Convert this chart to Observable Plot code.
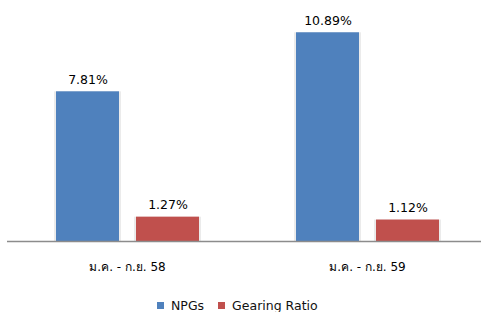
<!DOCTYPE html>
<html>
<head>
<meta charset="utf-8">
<script src="https://cdn.jsdelivr.net/npm/d3@7"></script>
<script src="https://cdn.jsdelivr.net/npm/@observablehq/plot@0.6"></script>
<style>
  body { margin: 0; background: #fff; font-family: "DejaVu Sans", sans-serif; }
  #legend { display: flex; gap: 14px; height: 30px; align-items: center; padding-left: 157px; font-size: 12.5px; color: #111; }
  #legend span.sw { display: inline-block; width: 7px; height: 7px; margin-right: 7px; vertical-align: 1px; }
</style>
</head>
<body>
<div id="chart"></div>
<div id="legend"></div>
<script>
const periods = ["ม.ค. - ก.ย. 58", "ม.ค. - ก.ย. 59"];
const seriesNames = ["NPGs", "Gearing Ratio"];
const npgs = [7.81, 10.89];
const gearing = [1.27, 1.12];
const colors = ["#4F81BD", "#C0504D"];

const data = [];
periods.forEach((p, i) => {
  data.push({period: p, series: seriesNames[0], value: npgs[i]});
  data.push({period: p, series: seriesNames[1], value: gearing[i]});
});

const chart = Plot.plot({
  width: 481,
  height: 290,
  marginLeft: 7,
  marginRight: -6,
  marginTop: 11,
  marginBottom: 49,
  style: {fontFamily: "DejaVu Sans, sans-serif", fontSize: "12px", color: "#000"},
  fx: {domain: periods, padding: 0, label: null},
  x: {domain: seriesNames, paddingInner: 0.2125, paddingOuter: 0.603, axis: null},
  y: {domain: [0, 12], axis: null},
  color: {domain: seriesNames, range: colors},
  marks: [
    Plot.barY(data, {fx: "period", x: "series", y: "value", fill: "#000", fillOpacity: 0.08, insetLeft: -2, insetRight: -2}),
    Plot.barY(data, {fx: "period", x: "series", y: "value", fill: "series"}),
    Plot.ruleY([0], {stroke: "#8c8c8c", strokeWidth: 1.5}),
    Plot.text(data, {fx: "period", x: "series", y: "value", text: d => d.value.toFixed(2) + "%", lineAnchor: "bottom", dy: -8, fill: "#000", fontSize: 12.5}),
    Plot.axisFx({anchor: "bottom", tickSize: 0, tickPadding: 21, label: null, fontSize: 12, fill: "#000"})
  ]
});
document.getElementById("chart").appendChild(chart);

const legend = document.getElementById("legend");
seriesNames.forEach((s, i) => {
  const item = document.createElement("div");
  const sw = document.createElement("span");
  sw.className = "sw";
  sw.style.background = colors[i];
  item.appendChild(sw);
  item.appendChild(document.createTextNode(s));
  legend.appendChild(item);
});
</script>
</body>
</html>
